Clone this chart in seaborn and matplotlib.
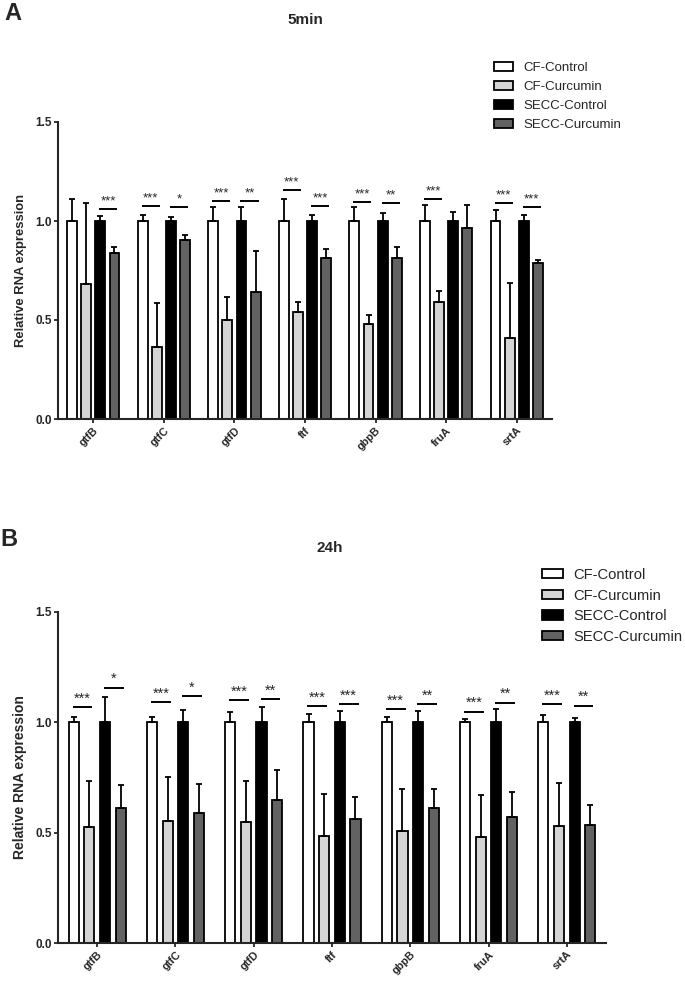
import matplotlib
matplotlib.use("Agg")
import matplotlib.pyplot as plt
from matplotlib.patches import Patch
import numpy as np
import pandas as pd
import seaborn as sns

sns.set_style("ticks")
plt.rcParams['font.family'] = ['Liberation Sans', 'DejaVu Sans']

genes = ['gtfB', 'gtfC', 'gtfD', 'ftf', 'gbpB', 'fruA', 'srtA']
groups = ['CF-Control', 'CF-Curcumin', 'SECC-Control', 'SECC-Curcumin']
colors = ['#ffffff', '#d4d4d4', '#000000', '#626262']

# ---- 5 min ----
cf_ctrl_5 = [1.0, 1.0, 1.0, 1.0, 1.0, 1.0, 1.0]
cf_ctrl_5_err = [0.11, 0.03, 0.07, 0.11, 0.07, 0.08, 0.055]
cf_cur_5 = [0.68, 0.365, 0.50, 0.54, 0.48, 0.59, 0.41]
cf_cur_5_err = [0.41, 0.22, 0.115, 0.05, 0.045, 0.055, 0.275]
secc_ctrl_5 = [1.0, 1.0, 1.0, 1.0, 1.0, 1.0, 1.0]
secc_ctrl_5_err = [0.025, 0.02, 0.07, 0.03, 0.04, 0.045, 0.03]
secc_cur_5 = [0.84, 0.905, 0.64, 0.815, 0.815, 0.965, 0.79]
secc_cur_5_err = [0.03, 0.025, 0.21, 0.045, 0.055, 0.115, 0.013]
sig_5 = [('gtfB', 'SECC', 1.062, '***'),
         ('gtfC', 'CF', 1.074, '***'), ('gtfC', 'SECC', 1.069, '*'),
         ('gtfD', 'CF', 1.10, '***'), ('gtfD', 'SECC', 1.10, '**'),
         ('ftf', 'CF', 1.155, '***'), ('ftf', 'SECC', 1.074, '***'),
         ('gbpB', 'CF', 1.096, '***'), ('gbpB', 'SECC', 1.09, '**'),
         ('fruA', 'CF', 1.113, '***'),
         ('srtA', 'CF', 1.09, '***'), ('srtA', 'SECC', 1.073, '***')]

# ---- 24 h ----
cf_ctrl_24 = [1.0, 1.0, 1.0, 1.0, 1.0, 1.0, 1.0]
cf_ctrl_24_err = [0.026, 0.023, 0.048, 0.039, 0.023, 0.017, 0.033]
cf_cur_24 = [0.524, 0.553, 0.548, 0.483, 0.508, 0.48, 0.53]
cf_cur_24_err = [0.21, 0.20, 0.186, 0.19, 0.19, 0.19, 0.195]
secc_ctrl_24 = [1.0, 1.0, 1.0, 1.0, 1.0, 1.0, 1.0]
secc_ctrl_24_err = [0.113, 0.054, 0.069, 0.05, 0.053, 0.059, 0.018]
secc_cur_24 = [0.612, 0.589, 0.65, 0.56, 0.61, 0.572, 0.533]
secc_cur_24_err = [0.104, 0.133, 0.132, 0.10, 0.09, 0.111, 0.092]
sig_24 = [('gtfB', 'CF', 1.069, '***'), ('gtfB', 'SECC', 1.157, '*'),
          ('gtfC', 'CF', 1.091, '***'), ('gtfC', 'SECC', 1.119, '*'),
          ('gtfD', 'CF', 1.10, '***'), ('gtfD', 'SECC', 1.104, '**'),
          ('ftf', 'CF', 1.073, '***'), ('ftf', 'SECC', 1.082, '***'),
          ('gbpB', 'CF', 1.06, '***'), ('gbpB', 'SECC', 1.082, '**'),
          ('fruA', 'CF', 1.048, '***'), ('fruA', 'SECC', 1.089, '**'),
          ('srtA', 'CF', 1.082, '***'), ('srtA', 'SECC', 1.074, '**')]

fig = plt.figure(figsize=(6.85, 9.82), dpi=100)


def panel(rect, means, errs, sigs, gap, xt_fs, yt_fs, ylab_fs, sig_fs):
    ax = fig.add_axes(rect)
    rows = []
    for g, m, e in zip(groups, means, errs):
        for gene, v, ev in zip(genes, m, e):
            rows.append({'gene': gene, 'group': g, 'value': v, 'err': ev})
    df = pd.DataFrame(rows)
    sns.barplot(data=df, x='gene', y='value', hue='group', order=genes,
                hue_order=groups, palette=colors, saturation=1,
                edgecolor='black', linewidth=1.3, gap=gap, errorbar=None,
                legend=False, ax=ax)
    centers = {}
    widths = {}
    for gi, (g, cont) in enumerate(zip(groups, ax.containers)):
        xs = np.array([p.get_x() + p.get_width() / 2 for p in cont.patches])
        hs = np.array([p.get_height() for p in cont.patches])
        e = np.array(errs[gi])
        ax.errorbar(xs, hs, yerr=[np.zeros_like(e), e], fmt='none',
                    ecolor='black', elinewidth=1.3, capsize=2.5,
                    capthick=1.3, zorder=1)
        centers[g] = xs
        widths[g] = cont.patches[0].get_width()
    for gene, pair, y, lab in sigs:
        i = genes.index(gene)
        if pair == 'CF':
            a, b = 'CF-Control', 'CF-Curcumin'
        else:
            a, b = 'SECC-Control', 'SECC-Curcumin'
        x1 = centers[a][i] - 0.1 * widths[a]
        x2 = centers[b][i] + 0.3 * widths[b]
        ax.plot([x1, x2], [y, y], color='black', lw=1.4, solid_capstyle='butt')
        ax.text((x1 + x2) / 2, y + 0.008, lab, ha='center', va='bottom',
                fontsize=sig_fs)
    ax.set_xlim(-0.5, 6.5)
    ax.set_ylim(0, 1.5)
    ax.set_yticks([0, 0.5, 1.0, 1.5])
    ax.set_xticks(range(len(genes)))
    ax.set_yticklabels(['0.0', '0.5', '1.0', '1.5'], fontsize=yt_fs,
                       fontweight='bold')
    ax.set_xticklabels(genes, rotation=45, ha='right', rotation_mode='anchor',
                       fontsize=xt_fs, fontweight='bold')
    ax.set_xlabel('')
    ax.set_ylabel('Relative RNA expression', fontweight='bold',
                  fontsize=ylab_fs, labelpad=6)
    ax.tick_params(axis='both', direction='out', length=3, width=1.3, pad=1.5)
    for s in ['top', 'right']:
        ax.spines[s].set_visible(False)
    for s in ['left', 'bottom']:
        ax.spines[s].set_linewidth(1.5)
    return ax


W, H = 685.0, 982.0
ax1 = panel([58 / W, 1 - 419 / H, 494 / W, 297 / H],
            [cf_ctrl_5, cf_cur_5, secc_ctrl_5, secc_cur_5],
            [cf_ctrl_5_err, cf_cur_5_err, secc_ctrl_5_err, secc_cur_5_err],
            sig_5, 0.3, 7.8, 8.5, 9.4, 9.5)
ax2 = panel([58 / W, 1 - 943 / H, 548 / W, 331 / H],
            [cf_ctrl_24, cf_cur_24, secc_ctrl_24, secc_cur_24],
            [cf_ctrl_24_err, cf_cur_24_err, secc_ctrl_24_err, secc_cur_24_err],
            sig_24, 0.35, 7.8, 8.5, 10, 10.5)

handles = [Patch(facecolor=c, edgecolor='black', linewidth=1.3) for c in colors]
fig.legend(handles, groups, loc='upper left',
           bbox_to_anchor=(494 / W, 1 - 62 / H), frameon=False, fontsize=9.5,
           handlelength=1.45, handleheight=0.65, handletextpad=0.75,
           labelspacing=0.52, borderaxespad=0, borderpad=0)
fig.legend(handles, groups, loc='upper left',
           bbox_to_anchor=(542 / W, 1 - 568 / H), frameon=False, fontsize=10.6,
           handlelength=1.45, handleheight=0.6, handletextpad=0.65,
           labelspacing=0.45, borderaxespad=0, borderpad=0)

fig.text(305 / W, 1 - 20 / H, '5min', ha='center', va='center',
         fontweight='bold', fontsize=11)
fig.text(330 / W, 1 - 548 / H, '24h', ha='center', va='center',
         fontweight='bold', fontsize=11)
fig.text(4 / W, 1 - 13 / H, 'A', ha='left', va='center',
         fontweight='bold', fontsize=17)
fig.text(0 / W, 1 - 539 / H, 'B', ha='left', va='center',
         fontweight='bold', fontsize=17)

fig.savefig('out.png', dpi=100)
